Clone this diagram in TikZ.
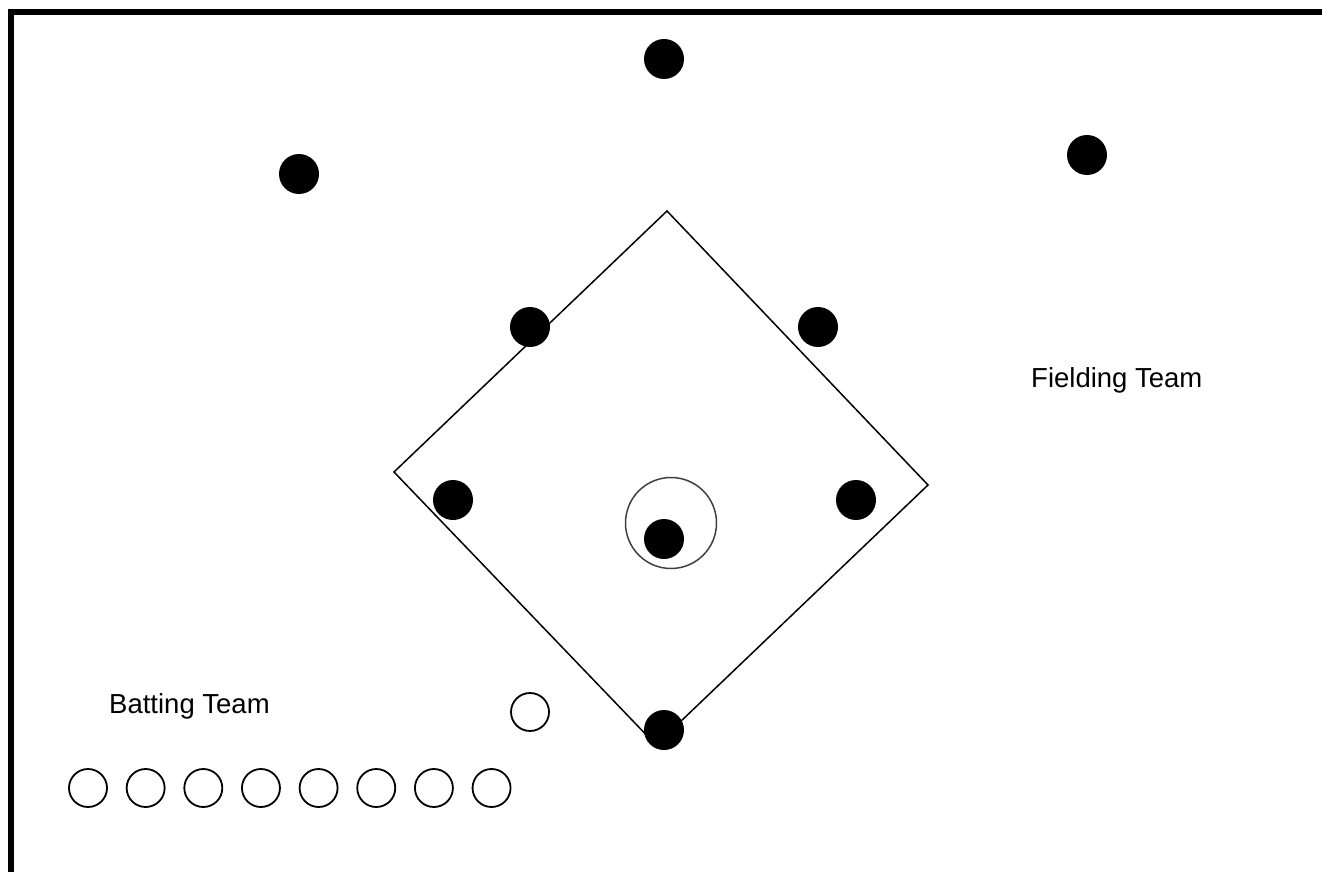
\documentclass[tikz,border=0pt]{standalone}
\usepackage{fontspec}
\setmainfont{Liberation Sans}
\begin{document}
\begin{tikzpicture}[x=1pt,y=-1pt,
  fielder/.style={circle,fill=black,inner sep=0pt,minimum size=40pt},
  batter/.style={circle,draw=black,line width=1.8pt,fill=white,inner sep=0pt,minimum size=38pt},
  label/.style={anchor=base west,inner sep=0pt,font=\fontsize{27.5pt}{30pt}\selectfont},
  fieldline/.style={draw=black,line width=1.5pt,line join=miter},
  frame/.style={draw=black,line width=6pt,line join=miter,line cap=butt}]
\useasboundingbox (0,0) rectangle (1322,872);
% frame
\draw[frame] (11,872) -- (11,12) -- (1322,12);
% diamond
\coordinate (top) at (667,211);
\coordinate (left) at (394,472);
\coordinate (right) at (928,485);
\coordinate (bottom) at (656,745);
\draw[fieldline] (top) -- (right) -- (bottom) -- (left) -- cycle;
% pitcher's circle
\node[circle,draw={rgb,255:red,64;green,64;blue,64},line width=1.5pt,inner sep=0pt,minimum size=91pt] (mound) at (671,523) {};
% fielders
\node[fielder] (cf) at (664,59) {};
\node[fielder] (lf) at (299,174) {};
\node[fielder] (rf) at (1087,155) {};
\node[fielder] (ss) at (530,327) {};
\node[fielder] (sb) at (818,327) {};
\node[fielder] (tb) at (453,500) {};
\node[fielder] (fb) at (856,500) {};
\node[fielder] (p) at (664,539) {};
\node[fielder] (c) at (664,730) {};
% batting team
\node[batter] (bat) at (530,712) {};
\foreach \i in {0,...,7} {
  \node[batter] (b\i) at ({88+57.65*\i},788) {};
}
% labels
\node[label] (fteam) at (1031,387) {Fielding Team};
\node[label] (bteam) at (109,713) {Batting Team};
\end{tikzpicture}
\end{document}
